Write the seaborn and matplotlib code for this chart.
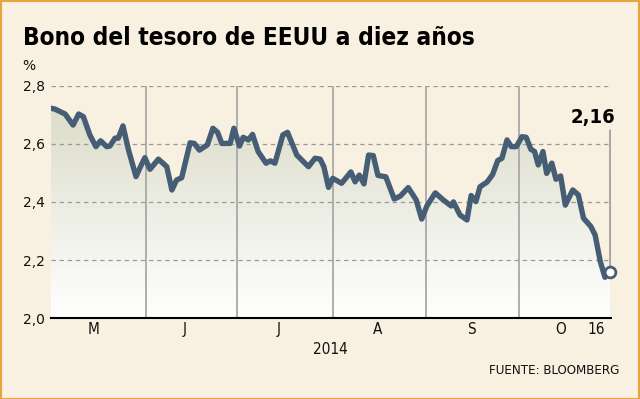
import numpy as np
import pandas as pd
import matplotlib
matplotlib.use("Agg")
import matplotlib.pyplot as plt
import seaborn as sns
from matplotlib.colors import LinearSegmentedColormap
from matplotlib.patches import Rectangle

# ---- data (trading-day position, yield %) ----
dias = [0.0, 0.9, 3.1, 4.8, 6.0, 7.0, 8.4, 9.7, 10.7, 12.0,
        12.7, 13.8, 14.5, 15.5, 16.7, 18.3, 19.2, 20.2, 21.3, 23.1,
        24.9, 26.0, 27.0, 28.1, 29.9, 30.8, 31.9, 33.6, 34.8, 35.8,
        36.7, 38.5, 39.3, 40.5, 41.3, 42.4, 43.3, 44.5, 46.2, 47.1,
        48.1, 49.8, 50.8, 52.8, 55.3, 56.7, 57.8, 58.6, 59.6, 60.5,
        62.4, 64.4, 65.3, 66.2, 67.2, 68.2, 69.2, 70.2, 71.9, 73.7,
        75.0, 76.7, 78.4, 79.6, 80.7, 82.5, 84.2, 85.9, 86.4, 87.8,
        89.3, 90.2, 91.2, 92.1, 93.6, 94.8, 95.9, 96.8, 97.9, 98.8,
        99.9, 101.1, 102.0, 103.0, 103.8, 104.6, 105.6, 106.4, 107.5, 108.4,
        109.4, 110.4, 112.0, 113.2, 114.3, 115.9, 116.8, 117.9, 118.9, 120.0]
rendimiento = [2.722, 2.719, 2.702, 2.664, 2.702, 2.693, 2.630, 2.590, 2.610, 2.590,
               2.592, 2.619, 2.619, 2.661, 2.578, 2.487, 2.519, 2.552, 2.512, 2.547,
               2.521, 2.441, 2.475, 2.483, 2.603, 2.601, 2.578, 2.596, 2.653, 2.639,
               2.601, 2.601, 2.653, 2.592, 2.622, 2.613, 2.632, 2.573, 2.533, 2.541,
               2.533, 2.630, 2.639, 2.561, 2.521, 2.550, 2.547, 2.521, 2.450, 2.481,
               2.464, 2.503, 2.469, 2.492, 2.462, 2.561, 2.559, 2.491, 2.486, 2.410,
               2.420, 2.449, 2.407, 2.341, 2.386, 2.431, 2.407, 2.386, 2.400, 2.355,
               2.338, 2.422, 2.401, 2.452, 2.468, 2.494, 2.542, 2.550, 2.613, 2.590,
               2.590, 2.624, 2.622, 2.581, 2.573, 2.527, 2.573, 2.498, 2.533, 2.478,
               2.489, 2.389, 2.441, 2.424, 2.344, 2.315, 2.286, 2.195, 2.141, 2.160]
meses = ['M', 'J', 'J', 'A', 'S', 'O', '16']
pos_meses = [9.1, 28.8, 49.0, 70.2, 90.2, 109.3, 117.0]
separadores = [20.45, 39.9, 60.6, 80.5, 100.4]
yticks = [2.0, 2.2, 2.4, 2.6, 2.8]
ytick_labels = ['2,0', '2,2', '2,4', '2,6', '2,8']
ultimo_label = '2,16'
titulo = 'Bono del tesoro de EEUU a diez años'
fuente = 'FUENTE: BLOOMBERG'
anio = '2014'

BG = '#f8f0e0'
LINE = '#465e75'

sns.set_theme(style='white')
plt.rcParams['font.family'] = ['DejaVu Sans']

fig = plt.figure(figsize=(6.4, 3.99), dpi=100, facecolor=BG)
ax = fig.add_axes([50.7 / 640, (399 - 318.3) / 399, 560.3 / 640, 232.8 / 399])
ax.set_facecolor(BG)

df = pd.DataFrame({'dia': dias, 'rend': rendimiento})
XMAX = 120.2
ax.set_xlim(0, XMAX)
ax.set_ylim(2.0, 2.8)

# gradient fill under the line
poly = ax.fill_between(df['dia'], df['rend'], 2.0, color='none', lw=0)
grad = np.linspace(1, 0, 256).reshape(-1, 1)
cmap = LinearSegmentedColormap.from_list('g', ['#ffffff', '#d8d9c4'])
im = ax.imshow(grad, cmap=cmap, aspect='auto', extent=[0, XMAX, 2.0, 2.8],
               origin='upper', zorder=1, interpolation='bilinear')
im.set_clip_path(poly.get_paths()[0], transform=ax.transData)

# grid lines and month separators
for y in yticks[1:]:
    ax.axhline(y, color='#9a9a9a', lw=0.9, ls=(0, (3.5, 3)), zorder=2)
for x in separadores:
    ax.axvline(x, color='#a8a8a8', lw=1.3, zorder=2)

sns.lineplot(data=df, x='dia', y='rend', color=LINE, lw=3.9, ax=ax, zorder=4,
             solid_joinstyle='round', solid_capstyle='round')

# end marker and annotation
sns.scatterplot(x=[dias[-1]], y=[rendimiento[-1]], ax=ax, s=60, color='white',
                edgecolor=LINE, linewidth=2, zorder=6, clip_on=False)
ax.annotate(ultimo_label, xy=(dias[-1], rendimiento[-1]), xytext=(5, 149),
            textcoords='offset pixels', ha='right', va='baseline',
            fontsize=14.5, fontweight='bold', stretch='condensed', color='black',
            arrowprops=dict(arrowstyle='-', color='#8a8a8a', lw=1.0,
                            shrinkA=0, shrinkB=4, relpos=(0.887, 0)),
            annotation_clip=False, zorder=5)

# axes styling
for s in ['top', 'right', 'left']:
    ax.spines[s].set_visible(False)
ax.spines['bottom'].set_color('black')
ax.spines['bottom'].set_linewidth(1.5)
ax.spines['bottom'].set_zorder(7)

ax.set_yticks(yticks)
ax.set_yticklabels(ytick_labels, fontsize=10, color='#111111')
ax.tick_params(axis='y', length=0, pad=4)

ax.set_xticks(pos_meses)
ax.set_xticklabels(meses, fontsize=11, family='DejaVu Sans', stretch='condensed',
                   color='#111111')
ax.tick_params(axis='x', length=0, pad=3)
ax.set_xlabel(anio, fontsize=11, family='DejaVu Sans', stretch='condensed',
              color='#111111', labelpad=3)
ax.set_ylabel('')
ax.grid(False)

# texts
fig.text(22.7 / 640, 1 - 45 / 399, titulo, fontsize=17.5, fontweight='bold',
         family='DejaVu Sans', stretch='condensed', va='baseline', ha='left',
         color='black')
fig.text(22.7 / 640, 1 - 70 / 399, '%', fontsize=10, va='baseline', ha='left',
         color='#111111')
fig.text(619 / 640, 1 - 370.5 / 399, fuente, fontsize=9.5, family='DejaVu Sans',
         stretch='condensed', va='center', ha='right', color='#111111')

fig.patches.append(Rectangle((0.5 / 640, 0.5 / 399), 638.5 / 640, 397.5 / 399,
                             transform=fig.transFigure, fill=False,
                             edgecolor='#e8a23e', lw=1.5))

fig.savefig('out.png', dpi=100, facecolor=BG)
